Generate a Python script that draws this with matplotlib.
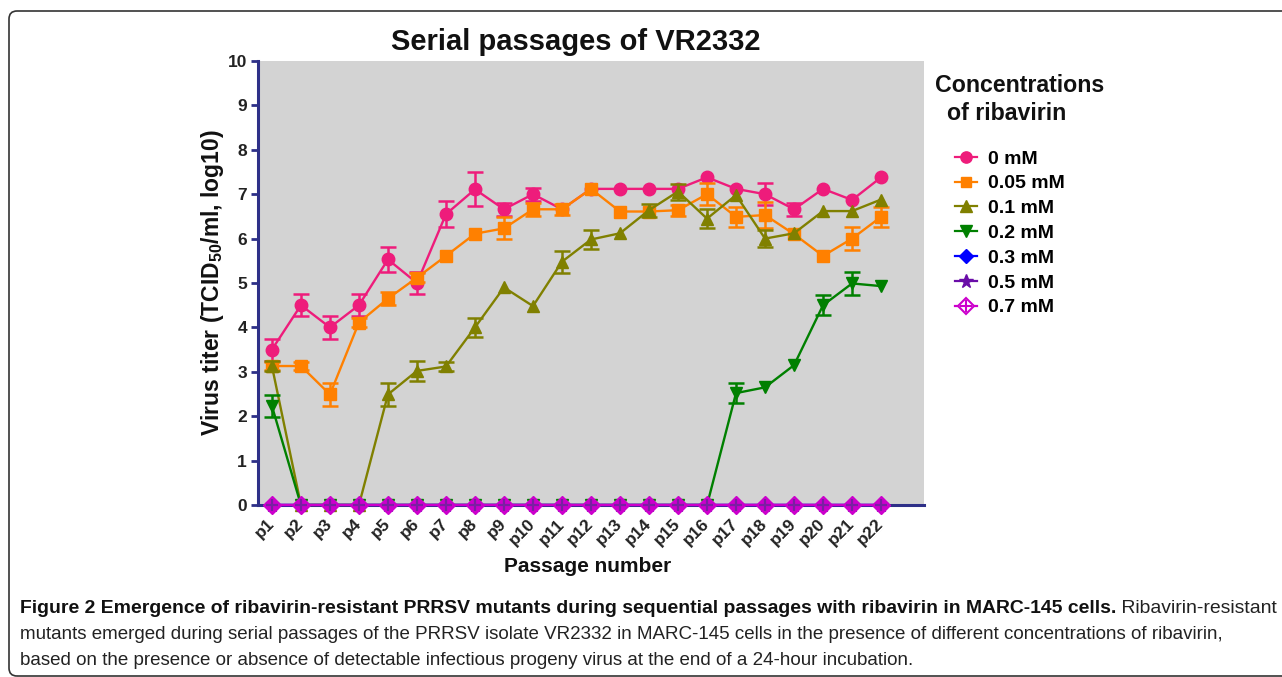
import matplotlib
matplotlib.use('Agg')
import matplotlib.pyplot as plt
from matplotlib.lines import Line2D
from matplotlib.patches import FancyBboxPatch
from matplotlib.transforms import IdentityTransform
from matplotlib.legend_handler import HandlerTuple
from matplotlib import font_manager

plt.rcParams['font.family'] = ['Liberation Sans', 'DejaVu Sans']
plt.rcParams['mathtext.fontset'] = 'custom'
plt.rcParams['mathtext.rm'] = 'Liberation Sans:bold'
plt.rcParams['mathtext.it'] = 'Liberation Sans:bold'
plt.rcParams['mathtext.bf'] = 'Liberation Sans:bold'

# ---------------- data ----------------
passages = ['p1', 'p2', 'p3', 'p4', 'p5', 'p6', 'p7', 'p8', 'p9', 'p10', 'p11',
            'p12', 'p13', 'p14', 'p15', 'p16', 'p17', 'p18', 'p19', 'p20', 'p21', 'p22']
labels = ['0 mM', '0.05 mM', '0.1 mM', '0.2 mM', '0.3 mM', '0.5 mM', '0.7 mM']

titer_0mM = [3.50, 4.50, 4.00, 4.50, 5.53, 5.00, 6.55, 7.11, 6.66, 7.00, 6.66,
             7.12, 7.12, 7.12, 7.12, 7.38, 7.12, 7.00, 6.66, 7.12, 6.87, 7.38]
err_0mM = [0.25, 0.25, 0.25, 0.25, 0.28, 0.25, 0.30, 0.38, 0.15, 0.15, 0,
           0, 0, 0, 0, 0, 0, 0.25, 0.15, 0, 0, 0]

titer_005mM = [3.13, 3.13, 2.49, 4.11, 4.65, 5.12, 5.61, 6.11, 6.23, 6.66, 6.66,
               7.12, 6.61, 6.61, 6.64, 7.00, 6.49, 6.53, 6.10, 5.61, 6.00, 6.49]
err_005mM = [0.10, 0.10, 0.25, 0.10, 0.15, 0.10, 0, 0, 0.25, 0.15, 0.12,
             0, 0, 0, 0.12, 0.25, 0.22, 0.30, 0, 0, 0.25, 0.22]

titer_01mM = [3.13, 0, 0, 0, 2.49, 3.02, 3.12, 4.00, 4.90, 4.48, 5.48,
              5.98, 6.12, 6.64, 7.06, 6.45, 6.98, 6.00, 6.12, 6.62, 6.62, 6.88]
err_01mM = [0.12, 0, 0, 0, 0.25, 0.22, 0.10, 0.22, 0, 0, 0.25,
            0.22, 0, 0.15, 0.18, 0.22, 0, 0.20, 0, 0, 0, 0]

titer_02mM = [2.23, 0, 0, 0, 0, 0, 0, 0, 0, 0, 0,
              0, 0, 0, 0, 0, 2.52, 2.65, 3.15, 4.50, 4.99, 4.93]
err_02mM = [0.25, 0, 0, 0, 0, 0, 0, 0, 0, 0, 0,
            0, 0, 0, 0, 0, 0.22, 0, 0, 0.22, 0.25, 0]

titer_03mM = [0] * 22
titer_05mM = [0] * 22
titer_07mM = [0] * 22
err_none = [0] * 22

colors = ['#EE1C7B', '#FF8000', '#808000', '#008000', '#0000FF', '#6A0DA8', '#CC00CC']
markers = ['o', 's', '^', 'v', 'D', '*', 'D']
msizes = [9, 8.5, 9, 9, 8, 11, 9.5]

series = [titer_0mM, titer_005mM, titer_01mM, titer_02mM, titer_03mM, titer_05mM, titer_07mM]
errors = [err_0mM, err_005mM, err_01mM, err_02mM, err_none, err_none, err_none]

# ---------------- figure ----------------
W, H = 1282, 677
fig = plt.figure(figsize=(W / 100, H / 100), dpi=100)
ax = fig.add_axes([258 / W, 1 - 505 / H, 666 / W, 444 / H])
ax.set_facecolor('#D3D3D3')

navy = '#2E3088'
x = list(range(len(passages)))
for i, (vals, errs) in enumerate(zip(series, errors)):
    c = colors[i]
    z = 3 + 2 * i
    idx = [j for j, e in enumerate(errs) if e > 0]
    if idx:
        ax.errorbar([x[j] for j in idx], [vals[j] for j in idx],
                    yerr=[errs[j] for j in idx], fmt='none', ecolor=c,
                    elinewidth=1.8, capsize=5.5, capthick=1.8, zorder=z, clip_on=False)
    ax.plot(x, vals, color=c, lw=1.7, marker=markers[i], ms=msizes[i],
            mfc=c, mec=c, clip_on=False, zorder=z + 1)
# cross inside the 0.7 mM diamonds
ax.plot(x, titer_07mM, ls='none', marker='+', ms=9, mew=1.6, color='#7A1FA2',
        clip_on=False, zorder=20)

ax.set_xlim(-0.48, len(passages) - 1 + 1.48)
ax.set_ylim(0, 10)
ax.set_yticks(range(0, 11))
ax.set_xticks(x)
ax.set_xticklabels(passages, rotation=45, ha='right', va='center',
                   rotation_mode='anchor', fontsize=12.5, fontweight='bold', color='#222222')
for t in ax.get_yticklabels():
    t.set_fontsize(12.5)
    t.set_fontweight('bold')
    t.set_color('#222222')
ax.tick_params(axis='x', length=0, pad=12)
ax.tick_params(axis='y', direction='out', length=5, width=2, color=navy, pad=3)
for s in ['top', 'right']:
    ax.spines[s].set_visible(False)
for s in ['left', 'bottom']:
    ax.spines[s].set_color(navy)
    ax.spines[s].set_linewidth(2.2)
    ax.spines[s].set_zorder(2)

ax.set_ylabel('Virus titer (TCID$_{50}$/ml, log10)', fontsize=16.5, fontweight='bold', color='#111111')
ax.yaxis.set_label_coords((213 - 258) / 666, 0.5)
ax.yaxis.label.set_va('center')
ax.set_xlabel('Passage number', fontsize=15, fontweight='bold', color='#111111')
ax.xaxis.set_label_coords((588 - 258) / 666, (505 - 567) / 444)
ax.xaxis.label.set_va('center')

fig.text(576 / W, 1 - 42 / H, 'Serial passages of VR2332', fontsize=21,
         fontweight='bold', ha='center', va='center', color='#111111')

# legend
fig.text(935 / W, 1 - 85 / H, 'Concentrations', fontsize=16.7, fontweight='bold',
         ha='left', va='center', color='#111111')
fig.text(947 / W, 1 - 113 / H, 'of ribavirin', fontsize=16.7, fontweight='bold',
         ha='left', va='center', color='#111111')
handles = []
for i in range(7):
    if i == 6:
        h1 = Line2D([], [], color=colors[i], lw=1.6, marker='D', ms=8, mfc='white', mec=colors[i], mew=1.5)
        h2 = Line2D([], [], color=colors[i], lw=0, marker='+', ms=8, mew=1.5)
        handles.append((h1, h2))
    else:
        handles.append(Line2D([], [], color=colors[i], lw=1.6, marker=markers[i],
                              ms=msizes[i] * 0.9, mfc=colors[i], mec=colors[i]))
fig.legend(handles, labels, loc='upper left', bbox_to_anchor=(955 / W, 1 - 150 / H),
           frameon=False, prop={'weight': 'bold', 'size': 14}, handlelength=1.15,
           handletextpad=0.55, labelspacing=0.37, borderpad=0, borderaxespad=0,
           handler_map={tuple: HandlerTuple(ndivide=1)})

# frame
frame = FancyBboxPatch((9, 1), 1400, 665, boxstyle='round,pad=0,rounding_size=8',
                       transform=IdentityTransform(), fill=False, ec='#333333', lw=1.2)
fig.add_artist(frame)

# caption
cap_family = 'Liberation Sans'
try:
    font_manager.findfont(font_manager.FontProperties(family='Liberation Sans Narrow'),
                          fallback_to_default=False)
    cap_family = 'Liberation Sans Narrow'
except Exception:
    pass

renderer = fig.canvas.get_renderer()
l1b = 'Figure 2 Emergence of ribavirin-resistant PRRSV mutants during sequential passages with ribavirin in MARC-145 cells.'
l1n = ' Ribavirin-resistant'
l2 = ('mutants emerged during serial passages of the PRRSV isolate VR2332 in MARC-145 cells '
      'in the presence of different concentrations of ribavirin,')
l3 = 'based on the presence or absence of detectable infectious progeny virus at the end of a 24-hour incubation.'

t2 = fig.text(20 / W, 1 - 639 / H, l2, fontsize=12, family=cap_family, va='baseline', color='#222222')
bb = t2.get_window_extent(renderer)
fs = 12 * (1226 - 20) / bb.width
t2.set_fontsize(fs)
t3 = fig.text(20 / W, 1 - 665 / H, l3, fontsize=fs, family=cap_family, va='baseline', color='#222222')

# line 1: bold lead-in then regular text, fitted to the same right edge as the reference
t1 = fig.text(20 / W, 1 - 613 / H, l1b, fontsize=fs, family=cap_family, fontweight='bold',
              va='baseline', color='#111111')
t1n = fig.text(0, 1 - 613 / H, l1n, fontsize=fs, family=cap_family, va='baseline', color='#222222')
w_b = t1.get_window_extent(renderer).width
w_n = t1n.get_window_extent(renderer).width
fs1 = fs * (1275 - 20) / (w_b + w_n)
t1.set_fontsize(fs1)
t1n.set_fontsize(fs1)
bb1 = t1.get_window_extent(renderer)
t1n.set_x(bb1.x1 / W)

fig.savefig('out.png', dpi=100)
